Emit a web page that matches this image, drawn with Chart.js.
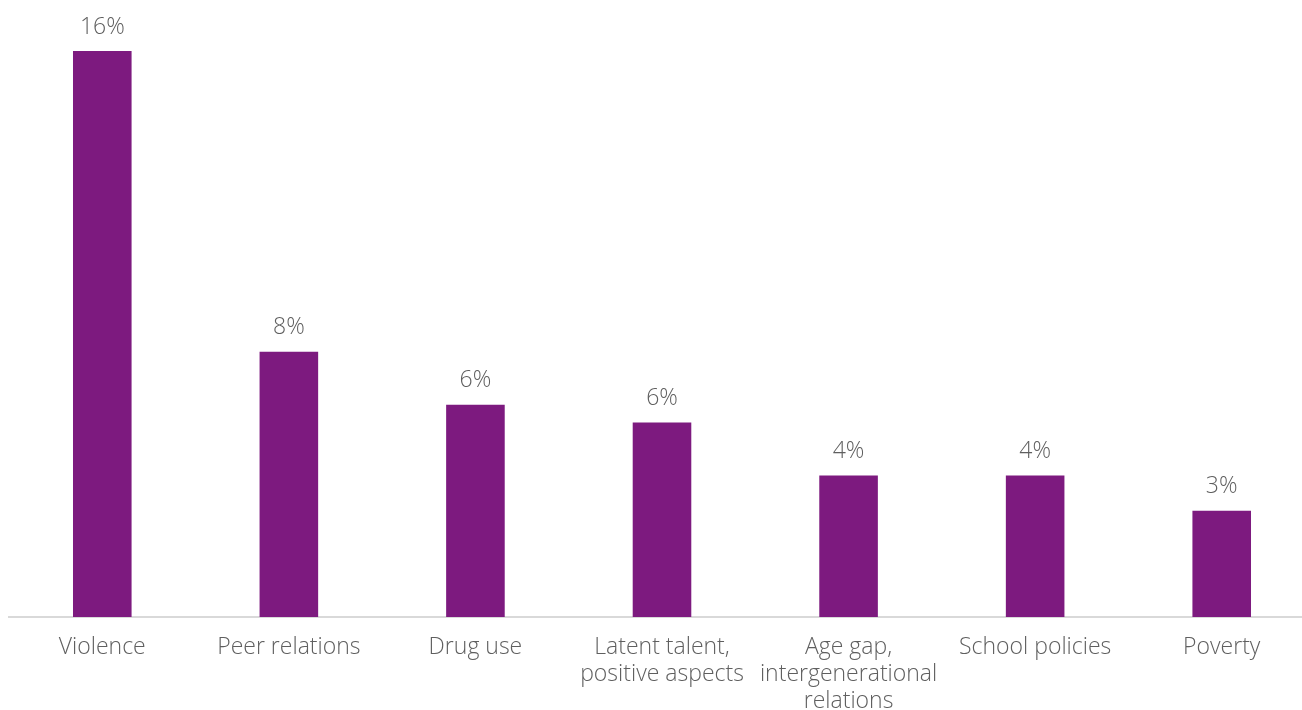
<!DOCTYPE html>
<html>
<head>
<meta charset="utf-8">
<script src="https://cdn.jsdelivr.net/npm/chart.js@4.4.0/dist/chart.umd.min.js"></script>
<style>
    body { margin: 0; overflow: hidden; background: #fff; }
    #wrap { width: 1320px; height: 732px; }
</style>
</head>
<body>
<div id="wrap"><canvas id="barChart" width="1320" height="732"></canvas></div>
<script>
// Chart data
const categories = [
    'Violence',
    'Peer relations',
    'Drug use',
    ['Latent talent,', 'positive aspects'],
    ['Age gap,', 'intergenerational', 'relations'],
    'School policies',
    'Poverty'
];
const shares = [16, 7.5, 6, 5.5, 4, 4, 3];
const shareLabels = ['16%', '8%', '6%', '6%', '4%', '4%', '3%'];

const TEXT_FONT = { family: "'Open Sans', 'Lato', sans-serif", size: 23, weight: 300, lineHeight: 1.174 };
const TEXT_COLOR = '#5f5f5f';

// Draw value labels above each bar
const valueLabels = {
    id: 'valueLabels',
    afterDatasetsDraw(chart) {
        const ctx = chart.ctx;
        const meta = chart.getDatasetMeta(0);
        ctx.save();
        ctx.font = `${TEXT_FONT.weight} ${TEXT_FONT.size}px ${TEXT_FONT.family}`;
        ctx.fillStyle = TEXT_COLOR;
        ctx.textAlign = 'center';
        ctx.textBaseline = 'middle';
        meta.data.forEach((bar, i) => {
            ctx.fillText(shareLabels[i], bar.x, bar.y - 24);
        });
        ctx.restore();
    }
};

const ctx = document.getElementById('barChart').getContext('2d');
new Chart(ctx, {
    type: 'bar',
    data: {
        labels: categories,
        datasets: [{
            data: shares,
            backgroundColor: '#7D1A7F',
            barPercentage: 0.314,
            categoryPercentage: 1
        }]
    },
    options: {
        responsive: false,
        animation: false,
        layout: { padding: { left: 9, right: 5, top: 51, bottom: 0 } },
        plugins: {
            legend: { display: false },
            tooltip: { enabled: false }
        },
        scales: {
            x: {
                grid: { display: false, drawTicks: false },
                border: { display: true, color: '#d9d9d9', width: 2 },
                ticks: {
                    color: TEXT_COLOR,
                    font: TEXT_FONT,
                    padding: 17,
                    autoSkip: false,
                    maxRotation: 0,
                    minRotation: 0
                }
            },
            y: {
                display: false,
                min: 0,
                max: 16
            }
        }
    },
    plugins: [valueLabels]
});
</script>
</body>
</html>
